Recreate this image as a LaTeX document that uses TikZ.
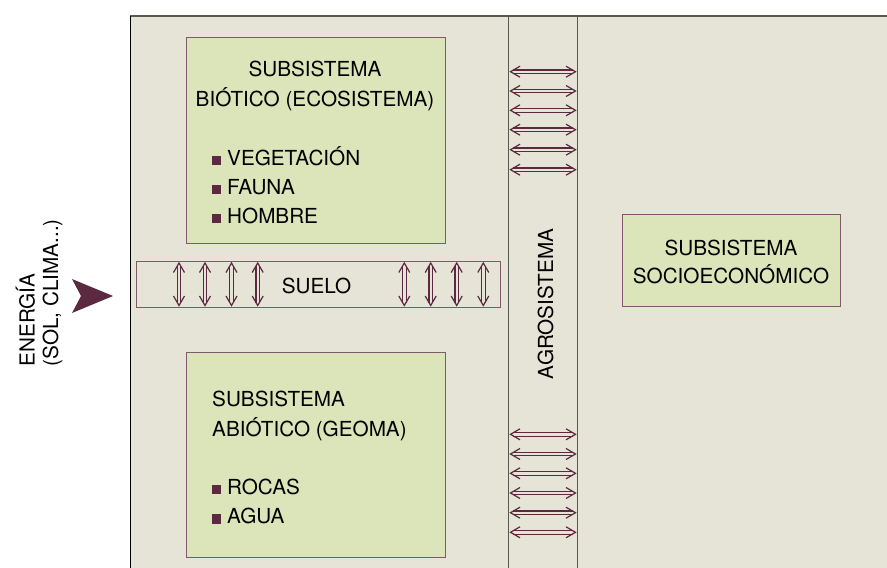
\documentclass[tikz,border=0pt]{standalone}
\usepackage{fontspec}
\setmainfont{TeX Gyre Heros}
\usetikzlibrary{arrows.meta}
\definecolor{bgc}{HTML}{E6E4D6}
\definecolor{boxc}{HTML}{DCE4B9}
\definecolor{mar}{HTML}{5B2A40}
\definecolor{brd}{HTML}{80596A}
\definecolor{frm}{HTML}{55594F}
\begin{document}
\begin{tikzpicture}[x=1pt,y=-1pt,
  font=\fontsize{20.7}{24}\selectfont,
  box/.style={draw=brd, fill=boxc, line width=1pt, anchor=north west, inner sep=0pt},
  soil/.style={draw=brd, fill=bgc, line width=1pt, anchor=north west, inner sep=0pt},
  txt/.style={inner sep=0pt, text=black},
  arrline/.style={draw=mar, line width=1.2pt},
  bul/.style={fill=mar}
]
\useasboundingbox (0,0) rectangle (887,568);
% background and frame
\fill[bgc] (130,16) rectangle (887,568);
\draw[frm, line width=1.5pt] (130,16) -- (887,16);
\draw[black, line width=1pt] (130,16) -- (130,568);
\draw[frm, line width=1pt] (508.7,16) -- (508.7,568);
\draw[frm, line width=1pt] (577.7,16) -- (577.7,568);

% boxes
\node[box, minimum width=259pt, minimum height=206pt] (bio) at (186,37.3) {};
\node[box, minimum width=259pt, minimum height=205pt] (abio) at (186,352) {};
\node[box, minimum width=218pt, minimum height=92pt] (socio) at (622,214) {};
\node[soil, minimum width=364pt, minimum height=46pt] (suelo) at (136,261) {};

% biotic texts
\node[txt, anchor=base] (b1) at (315,76.7) {SUBSISTEMA};
\node[txt, anchor=base] (b2) at (315,106) {BIÓTICO (ECOSISTEMA)};
\node[txt, anchor=base west] (b3) at (227,165) {VEGETACIÓN};
\node[txt, anchor=base west] (b4) at (227,194) {FAUNA};
\node[txt, anchor=base west] (b5) at (227,223) {HOMBRE};
\foreach \b in {165,194,223} \fill[bul] (212.3,\b-9.5) rectangle (220.8,\b);

% abiotic texts
\node[txt, anchor=base west] (a1) at (212,406) {SUBSISTEMA};
\node[txt, anchor=base west] (a2) at (212,436.5) {ABIÓTICO (GEOMA)};
\node[txt, anchor=base west] (a3) at (227,494) {ROCAS};
\node[txt, anchor=base west] (a4) at (227,523.5) {AGUA};
\foreach \b in {494,523.5} \fill[bul] (212.3,\b-9.5) rectangle (220.8,\b);

% socioeconomic texts
\node[txt, anchor=base] (s1) at (731,255) {SUBSISTEMA};
\node[txt, anchor=base] (s2) at (731,283.3) {SOCIOECONÓMICO};

% suelo
\node[txt, anchor=base] (st) at (316.5,293.3) {SUELO};

% agrosistema
\node[txt, anchor=base, rotate=90] (agro) at (553,304) {AGROSISTEMA};

% energy
\node[txt, anchor=base west, rotate=90] (e1) at (34.5,366.7) {ENERGÍA};
\node[txt, anchor=base west, rotate=90] (e2) at (58,366.7) {(SOL, CLIMA...)};
\fill[mar] (113,296) -- (72,279) -- (81,296) -- (72,313) -- cycle;

% horizontal double arrows (agrosistema)
\foreach \y in {71.7,91,110.3,129.7,149.7,169.7,434.3,454,473.3,493,512.7,532.3}{
  \draw[arrline] (513,\y-1.8) -- (573,\y-1.8) (513,\y+1.8) -- (573,\y+1.8);
  \draw[arrline] (520,\y-5.5) -- (510.5,\y) -- (520,\y+5.5);
  \draw[arrline] (566,\y-5.5) -- (575.5,\y) -- (566,\y+5.5);
}
% vertical double arrows (suelo)
\foreach \x in {179,205,231.5,257.7,404.3,430.7,456.7,483.3}{
  \draw[arrline] (\x-1.8,266) -- (\x-1.8,302.5) (\x+1.8,266) -- (\x+1.8,302.5);
  \draw[arrline] (\x-5.5,272.5) -- (\x,263) -- (\x+5.5,272.5);
  \draw[arrline] (\x-5.5,296) -- (\x,305.5) -- (\x+5.5,296);
}
\end{tikzpicture}
\end{document}
